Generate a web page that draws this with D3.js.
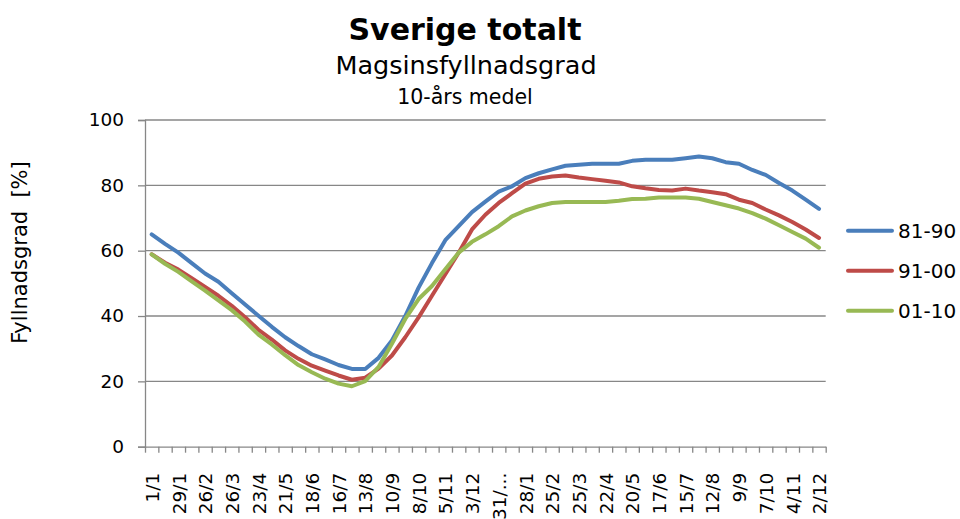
<!DOCTYPE html>
<html><head><meta charset="utf-8">
<script src="https://cdn.jsdelivr.net/npm/d3@7"></script>
<style>
body{margin:0;background:#fff}
svg{display:block}
text{font-family:"DejaVu Sans",Verdana,sans-serif;fill:#000}
</style>
</head><body>
<svg id="chart" width="960" height="519"></svg>
<script>
// ---- data ----
const categories = ["1/1","15/1","29/1","12/2","26/2","12/3","26/3","9/4","23/4","7/5","21/5","4/6","18/6","2/7","16/7","30/7","13/8","27/8","10/9","24/9","8/10","22/10","5/11","19/11","3/12","17/12","31/...","14/1","28/1","11/2","25/2","11/3","25/3","8/4","22/4","6/5","20/5","3/6","17/6","1/7","15/7","29/7","12/8","26/8","9/9","23/9","7/10","21/10","4/11","18/11","2/12"];
const seriesNames = ["81-90","91-00","01-10"];
const s8190 = [65.0,62.1,59.4,56.2,53.0,50.5,47.0,43.5,40.1,36.7,33.5,30.8,28.3,26.7,25.0,23.8,23.8,27.2,32.5,40.0,48.7,56.2,63.2,67.5,71.8,75.0,78.1,79.7,82.2,83.7,84.9,86.0,86.3,86.6,86.6,86.6,87.5,87.8,87.8,87.8,88.3,88.8,88.3,87.1,86.6,84.7,83.2,80.7,78.4,75.6,72.8];
const s9100 = [58.9,56.3,54.2,51.6,48.9,46.2,43.1,39.6,35.8,32.8,29.5,26.9,24.8,23.3,21.8,20.5,21.1,23.9,27.9,33.5,39.6,46.2,52.8,59.4,66.5,71.0,74.6,77.6,80.5,82.0,82.7,83.0,82.4,81.9,81.4,80.9,79.7,79.1,78.6,78.4,79.0,78.4,77.9,77.3,75.6,74.6,72.6,70.8,68.8,66.5,63.9];
const s0110 = [58.9,56.0,53.5,50.6,47.8,44.8,41.8,38.3,34.3,31.3,28.0,25.0,22.8,20.8,19.3,18.5,20.1,24.4,31.5,39.1,45.2,49.2,54.3,59.4,62.7,65.0,67.5,70.5,72.3,73.6,74.6,74.9,74.9,74.9,74.9,75.3,75.8,75.9,76.3,76.3,76.3,75.9,74.9,73.9,72.9,71.5,69.8,67.8,65.7,63.7,60.9];
const yTicks = [0,20,40,60,80,100];
const titleText = "Sverige totalt";
const subtitleText = "Magsinsfyllnadsgrad";
const subsubText = "10-års medel";
const yTitle = "Fyllnadsgrad  [%]";

// ---- styles / layout ----
const colors = ["#4A7EBB","#BE4B48","#98B954"];
const series = [s8190, s9100, s0110];
const plotLeft = 145, plotRight = 825.7, plotTop = 120, plotBottom = 446.7;
const gridColor = "#878787";

const svg = d3.select("#chart");

const xb = d3.scaleLinear().domain([0, categories.length]).range([plotLeft, plotRight]);
const xc = i => xb(i + 0.5);
const y = d3.scaleLinear().domain([0, 100]).range([plotBottom, plotTop]);

// gridlines
svg.append("g").selectAll("line").data(yTicks.filter(v => v > 0)).join("line")
  .attr("x1", plotLeft).attr("x2", plotRight)
  .attr("y1", d => y(d)).attr("y2", d => y(d))
  .attr("stroke", gridColor).attr("stroke-width", 1.3);

// y axis
const gy = svg.append("g").attr("transform", `translate(${plotLeft},0)`)
  .call(d3.axisLeft(y).tickValues(yTicks).tickSize(7).tickPadding(14).tickFormat(d3.format("d")));
gy.select(".domain").attr("stroke", gridColor).attr("stroke-width", 1.3);
gy.selectAll(".tick line").attr("stroke", gridColor).attr("stroke-width", 1.3);
gy.selectAll(".tick text").attr("font-size", 18.5).attr("font-family", "DejaVu Sans").attr("fill", "#000");

// x axis ticks (category boundaries)
const gxt = svg.append("g").attr("transform", `translate(0,${plotBottom})`)
  .call(d3.axisBottom(xb).tickValues(d3.range(categories.length + 1)).tickSize(6).tickSizeOuter(0).tickFormat(""));
gxt.select(".domain").attr("stroke", gridColor).attr("stroke-width", 1.3);
gxt.selectAll(".tick line").attr("stroke", gridColor).attr("stroke-width", 1.3);

// x axis labels (every second category)
const labelIdx = d3.range(0, categories.length, 2);
const gxl = svg.append("g").attr("transform", `translate(0,${plotBottom})`)
  .call(d3.axisBottom(xb).tickValues(labelIdx.map(i => i + 0.5)).tickSize(0)
    .tickFormat(v => categories[Math.round(v - 0.5)]));
gxl.select(".domain").remove();
gxl.selectAll(".tick text")
  .attr("transform", "rotate(-90)")
  .attr("x", -26).attr("y", 0).attr("dy", "0.36em")
  .attr("text-anchor", "end")
  .attr("font-size", 18.5).attr("font-family", "DejaVu Sans").attr("fill", "#000");

// lines
const line = d3.line().x((d, i) => xc(i)).y(d => y(d));
svg.append("g").selectAll("path").data(series).join("path")
  .attr("d", d => line(d))
  .attr("fill", "none")
  .attr("stroke", (d, i) => colors[i])
  .attr("stroke-width", 4)
  .attr("stroke-linejoin", "round")
  .attr("stroke-linecap", "round");

// legend
const lg = svg.append("g").selectAll("g").data(seriesNames).join("g")
  .attr("transform", (d, i) => `translate(848,${230.7 + i * 40})`);
lg.append("line").attr("x1", 0).attr("x2", 44).attr("y1", 0).attr("y2", 0)
  .attr("stroke", (d, i) => colors[i]).attr("stroke-width", 4).attr("stroke-linecap", "round");
lg.append("text").attr("x", 50).attr("y", 0).attr("dy", "0.36em")
  .attr("font-size", 20).text(d => d);

// titles
svg.append("text").attr("x", 465).attr("y", 39.5).attr("text-anchor", "middle")
  .attr("font-size", 30).attr("font-weight", "bold").text(titleText);
svg.append("text").attr("x", 466).attr("y", 73.5).attr("text-anchor", "middle")
  .attr("font-size", 25.5).text(subtitleText);
svg.append("text").attr("x", 465).attr("y", 103.5).attr("text-anchor", "middle")
  .attr("font-size", 20.5).text(subsubText);

// y title
svg.append("text").attr("transform", "translate(27,252.5) rotate(-90)")
  .attr("text-anchor", "middle").attr("font-size", 21)
  .style("white-space", "pre").text(yTitle);
</script>
</body></html>
